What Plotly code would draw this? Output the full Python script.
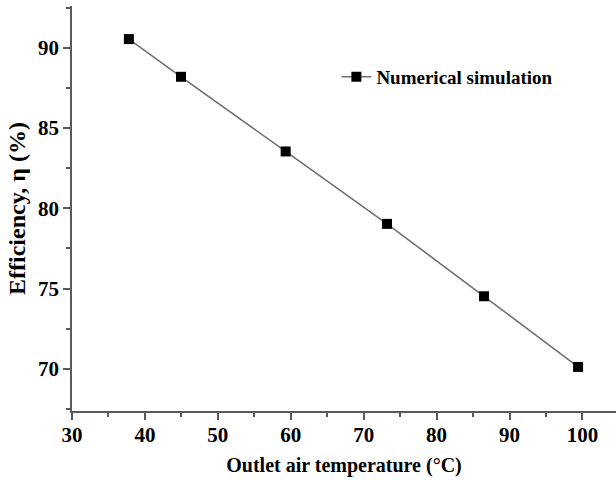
import plotly.graph_objects as go

temperature = [37.8, 44.95, 59.3, 73.2, 86.5, 99.4]
efficiency = [90.54, 88.19, 83.54, 79.03, 74.52, 70.12]
series_name = "Numerical simulation"
x_title = "Outlet air temperature (°C)"
y_title = "Efficiency, η (%)"

font_family = "Liberation Serif"
axis_color = "#5a5a5a"
text_color = "#000000"

fig = go.Figure()
fig.add_trace(go.Scatter(
    x=temperature, y=efficiency, mode="lines+markers", name=series_name,
    line=dict(color="#707070", width=1.6),
    marker=dict(symbol="square", size=10, color="black"),
))

axis_common = dict(
    showgrid=False, zeroline=False, showline=True, linecolor=axis_color, linewidth=1.5,
    ticks="outside", ticklen=7, tickwidth=1.5, tickcolor=axis_color,
    tickfont=dict(family=font_family, size=21, color=text_color, weight="bold"),
    mirror=False,
)

fig.update_xaxes(
    range=[30, 104.6], tick0=30, dtick=10,
    title=dict(text=x_title, standoff=12,
               font=dict(family=font_family, size=20, color=text_color, weight="bold")),
    minor=dict(ticks="outside", ticklen=4, dtick=5, tick0=30, tickcolor=axis_color, tickwidth=1.5),
    ticklabelstandoff=-3,
    **axis_common,
)
fig.update_yaxes(
    range=[67.375, 92.6], tick0=70, dtick=5,
    title=dict(text=y_title, standoff=6,
               font=dict(family=font_family, size=24, color=text_color, weight="bold")),
    minor=dict(ticks="outside", ticklen=4, dtick=2.5, tick0=70, tickcolor=axis_color, tickwidth=1.5),
    **axis_common,
)

fig.update_layout(
    width=616, height=480,
    margin=dict(l=72, r=0, t=6, b=69),
    paper_bgcolor="white", plot_bgcolor="white",
    showlegend=True,
    legend=dict(
        x=0.486, y=0.825, xanchor="left", yanchor="middle",
        bgcolor="rgba(0,0,0,0)",
        font=dict(family=font_family, size=19, color=text_color, weight="bold"),
        itemwidth=30,
    ),
)

fig.write_html("out.html")
